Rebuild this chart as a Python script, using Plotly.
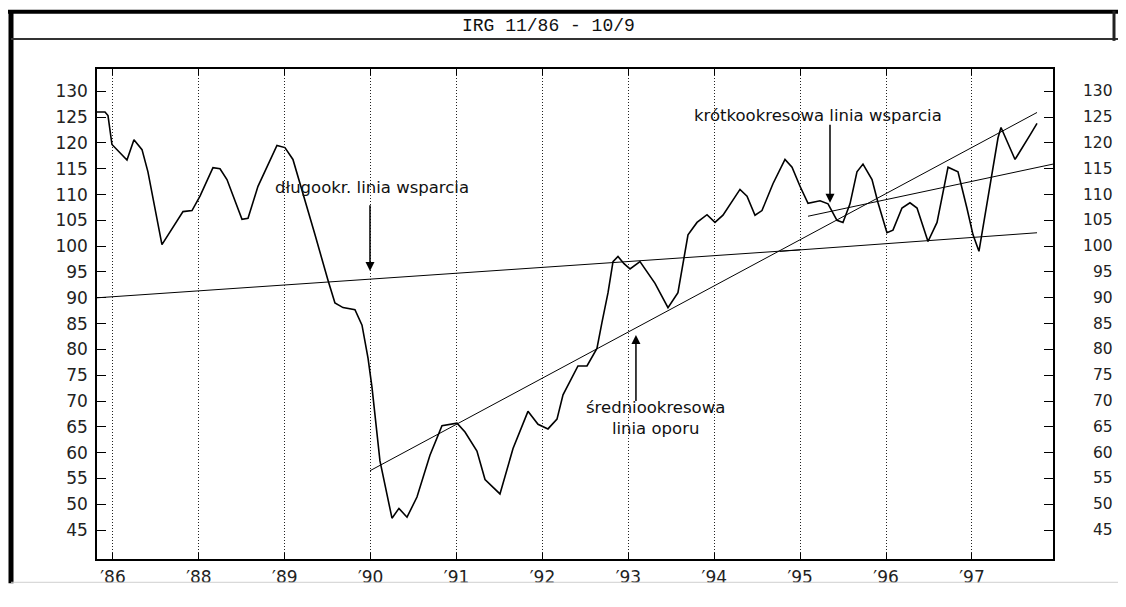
import plotly.graph_objects as go

# ---------------- data ----------------
tick_positions = [0, 1, 2, 3, 4, 5, 6, 7, 8, 9, 10]
tick_labels = ["′86", "′88", "′89", "′90", "′91", "′92", "′93", "′94", "′95", "′96", "′97"]
y_ticks = [45, 50, 55, 60, 65, 70, 75, 80, 85, 90, 95, 100, 105, 110, 115, 120, 125, 130]

irg_x = [-0.186, -0.093, -0.058, -0.012, 0.163, 0.244, 0.338, 0.407, 0.570, 0.815,
         0.920, 1.013, 1.164, 1.246, 1.327, 1.502, 1.572, 1.688, 1.909, 2.002,
         2.095, 2.212, 2.352, 2.503, 2.584, 2.678, 2.817, 2.899, 2.969, 3.015,
         3.108, 3.248, 3.329, 3.423, 3.539, 3.690, 3.830, 4.005, 4.098, 4.237,
         4.331, 4.505, 4.657, 4.831, 4.948, 5.064, 5.169, 5.239, 5.413, 5.518,
         5.634, 5.693, 5.763, 5.821, 5.879, 5.949, 6.019, 6.135, 6.310, 6.461,
         6.577, 6.694, 6.799, 6.915, 7.008, 7.101, 7.299, 7.381, 7.474, 7.555,
         7.683, 7.823, 7.905, 7.998, 8.091, 8.231, 8.324, 8.428, 8.498, 8.580,
         8.661, 8.731, 8.836, 8.906, 9.010, 9.080, 9.185, 9.278, 9.360, 9.488,
         9.593, 9.721, 9.837, 9.942, 10.012, 10.081, 10.210, 10.303, 10.338, 10.501,
         10.675, 10.757]
irg_y = [126.0, 126.0, 125.3, 119.7, 116.7, 120.6, 118.7, 114.4, 100.3, 106.7,
         106.9, 109.7, 115.2, 115.0, 112.9, 105.2, 105.4, 111.6, 119.5, 119.1,
         116.8, 110.3, 102.2, 93.4, 89.0, 88.1, 87.7, 84.7, 78.3, 72.7,
         58.4, 47.3, 49.2, 47.5, 51.4, 59.5, 65.2, 65.7, 64.0, 60.3,
         54.8, 52.0, 60.8, 68.0, 65.5, 64.6, 66.5, 71.2, 76.8, 76.8,
         80.2, 85.3, 91.0, 97.0, 98.0, 96.6, 95.6, 97.0, 92.8, 88.1,
         91.0, 102.2, 104.6, 106.1, 104.6, 106.0, 111.0, 109.7, 106.0, 106.9,
         112.1, 116.8, 115.3, 111.6, 108.3, 108.8, 108.2, 105.0, 104.6, 108.2,
         114.4, 115.9, 112.9, 108.4, 102.6, 103.1, 107.4, 108.4, 107.4, 100.9,
         104.6, 115.3, 114.4, 107.3, 102.2, 99.0, 111.6, 121.0, 123.0, 116.8,
         121.5, 123.8]

# trend lines (start/end points)
long_support_x = [-0.186, 7.998]
long_support_y = [90.0, 99.3]
long_support2_x = [7.765, 10.757]
long_support2_y = [99.0, 102.6]
mid_resist_x = [2.992, 10.757]
mid_resist_y = [56.5, 125.9]
short_support_x = [8.091, 10.943]
short_support_y = [105.8, 115.9]

labels = ["długookr. linia wsparcia", "średniookresowa<br>linia oporu", "krótkookresowa linia wsparcia"]
label_x = [3.015, 6.31, 8.207]
label_y = [111.4, 66.7, 125.3]
arrow_x = [2.992, 6.088, 8.347]
arrow_tip_y = [95.2, 82.8, 108.4]
arrow_tail_y = [108.2, 69.7, 123.8]

title_text = "IRG 11/86 - 10/9"

# ---------------- figure ----------------
# the page body keeps its default 8px margin, so the figure is 16px smaller
OFF = 8
W, H = 1126 - 2 * OFF, 607 - 2 * OFF
L, R, T, B = 97 - OFF, 1053 - OFF, 69 - OFF, 574 - OFF


def px(x):  # page pixel -> paper
    return (x - OFF - L) / (R - L)


def py(y):
    return (B - (y - OFF)) / (B - T)


fig = go.Figure()
line_style = dict(color="black", width=1)
for xs, ys in [(long_support_x, long_support_y), (long_support2_x, long_support2_y),
               (mid_resist_x, mid_resist_y), (short_support_x, short_support_y)]:
    fig.add_trace(go.Scatter(x=xs, y=ys, mode="lines", line=line_style,
                             showlegend=False, hoverinfo="skip"))

fig.add_trace(go.Scatter(x=irg_x, y=irg_y, mode="lines",
                         line=dict(color="black", width=1.6), showlegend=False))

annotations = []
for t, x, y in zip(labels, label_x, label_y):
    annotations.append(dict(x=x, y=y, xref="x", yref="y", text=t, showarrow=False,
                            xanchor="center", yanchor="middle",
                            font=dict(family="DejaVu Sans", size=16.5, color="#111")))
for x, yt, ya in zip(arrow_x, arrow_tip_y, arrow_tail_y):
    annotations.append(dict(x=x, y=yt, ax=x, ay=ya, xref="x", yref="y", axref="x", ayref="y",
                            text="", showarrow=True, arrowhead=2, arrowsize=1.2,
                            arrowwidth=1.5, arrowcolor="black"))
annotations.append(dict(x=px(548), y=py(25), xref="paper", yref="paper", text=title_text,
                        xanchor="center", yanchor="middle", showarrow=False,
                        font=dict(family="Liberation Mono", size=18, color="#111")))
# right-hand value scale (repeats the left axis ticks), kept inside the page
for v in y_ticks:
    annotations.append(dict(x=px(1115), y=v, xref="paper", yref="y", text=str(v),
                            xanchor="right", yanchor="middle", showarrow=False,
                            font=dict(family="DejaVu Sans", size=15.5, color="#222")))

shapes = [
    dict(type="line", xref="paper", yref="paper", x0=px(8), x1=px(1118), y0=py(10), y1=py(10),
         line=dict(color="black", width=4)),
    dict(type="line", xref="paper", yref="paper", x0=px(11), x1=px(11), y0=py(9), y1=py(599),
         line=dict(color="black", width=5)),
    dict(type="line", xref="paper", yref="paper", x0=px(11), x1=px(1118), y0=py(38), y1=py(38),
         line=dict(color="#333", width=2)),
    dict(type="line", xref="paper", yref="paper", x0=px(1114), x1=px(1114), y0=py(9), y1=py(40),
         line=dict(color="#222", width=3)),
    dict(type="line", xref="paper", yref="paper", x0=px(11), x1=px(1118), y0=py(598), y1=py(598),
         line=dict(color="#cfcfcf", width=1)),
]

y_top = 130 + (92 - 69) / 5.32
y_bot = 130 - (574 - 92) / 5.32

fig.update_layout(
    width=W, height=H,
    margin=dict(l=L, r=W - R, t=T, b=H - B, pad=0),
    paper_bgcolor="white", plot_bgcolor="white",
    showlegend=False,
    annotations=annotations,
    shapes=shapes,
    xaxis=dict(range=[-0.186, 10.943], tickvals=tick_positions, ticktext=tick_labels,
               showgrid=True, gridcolor="#222", griddash="1px,2px", gridwidth=1,
               ticks="inside", ticklen=6, tickcolor="black", mirror="ticks",
               showline=True, linecolor="black", linewidth=1.5, zeroline=False,
               tickfont=dict(family="DejaVu Sans", size=17, color="#222"),
               ticklabelstandoff=2),
    yaxis=dict(range=[y_bot, y_top], tickvals=y_ticks, showgrid=False, zeroline=False,
               ticks="inside", ticklen=9, tickcolor="black", mirror="ticks",
               showline=True, linecolor="black", linewidth=1.5,
               tickfont=dict(family="DejaVu Sans", size=17, color="#222"),
               ticklabelstandoff=4),
)

fig.write_html("out.html", config={"displayModeBar": False})
